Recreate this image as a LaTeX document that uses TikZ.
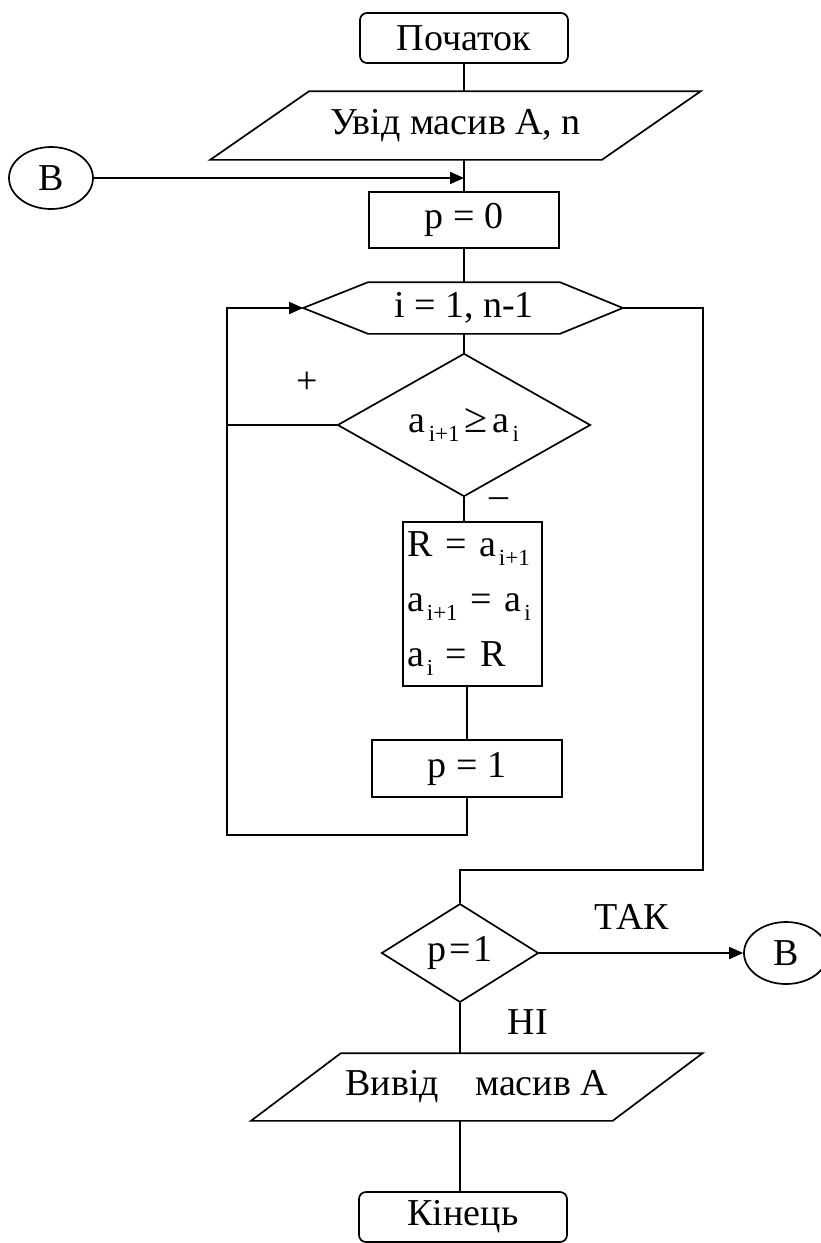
\documentclass[tikz,border=0pt]{standalone}
\usepackage{fontspec}
\setmainfont{Liberation Serif}
\usetikzlibrary{shapes.geometric,arrows.meta,calc}
\newcommand{\subx}[1]{\kern3pt\raisebox{-9pt}{\fontsize{23}{23}\selectfont #1}}
\begin{document}
\begin{tikzpicture}[x=1pt,y=-1pt,line width=1.7pt,
  every node/.style={font=\fontsize{38}{42}\selectfont},
  term/.style={draw,rounded corners=7pt,minimum width=208pt,minimum height=50pt,inner sep=0pt},
  proc/.style={draw,minimum height=56pt,inner sep=0pt},
  io/.style={minimum height=67pt,inner sep=0pt},
  dec/.style={draw,diamond,inner sep=0pt},
  conn/.style={draw,ellipse,minimum width=84pt,minimum height=62pt,inner sep=0pt},
  lbl/.style={inner sep=0pt},
  arr/.style={-{Triangle[length=14pt,width=12pt]}}]
\useasboundingbox (0,0) rectangle (821,1243);

% nodes
\node[term] (start) at (464,38) {Початок};
\node[io,minimum width=390pt] (in) at (455.5,125.5) {Увід масив А, n};
\draw ($(in.north west)+(49.5,0)$) -- ($(in.north east)+(49.5,0)$) -- ($(in.south east)+(-49.5,0)$) -- ($(in.south west)+(-49.5,0)$) -- cycle;
\node[conn] (bL) at (51,178) {В};
\node[proc,minimum width=190pt] (p0) at (464,220) {p = 0};
\node[minimum width=190pt,minimum height=50pt,inner sep=0pt] (hex) at (464,308) {i = 1, n-1};
\coordinate (hexW) at ($(hex.west)+(-65,0)$);
\coordinate (hexE) at ($(hex.east)+(63,0)$);
\draw (hex.north west) -- (hex.north east) -- (hexE) -- (hex.south east) -- (hex.south west) -- (hexW) -- cycle;
\node[dec,minimum width=253pt,minimum height=103pt] (d1) at (464,425) {a\subx{i+1}\kern5pt{\fontsize{42}{42}\selectfont ≥}\kern5pt a\subx{i}};
\node[draw,minimum width=139pt,minimum height=164pt,text width=131pt,inner sep=4pt,align=left,font=\fontsize{38}{55}\selectfont] (r) at (472.5,604) {R = a\subx{i+1}\\a\subx{i+1} = a\subx{i}\\a\subx{i} = R};
\node[proc,minimum width=190pt,minimum height=57pt] (p1) at (467,768.5) {p = 1};
\node[dec,minimum width=157pt,minimum height=98pt] (d2) at (460,953) {p{\kern3pt}={\kern3pt}1};
\node[conn] (bR) at (786,953) {В};
\node[io,minimum width=360pt,minimum height=66pt] (out) at (476.75,1087) {Вивід\hspace{0.7em} масив А};
\draw ($(out.north west)+(45,0)$) -- ($(out.north east)+(45,0)$) -- ($(out.south east)+(-45,0)$) -- ($(out.south west)+(-45,0)$) -- cycle;
\node[term] (end) at (463,1217) {Кінець};

% labels
\node[lbl] (plus) at (307,383) {+};
\node[lbl] (minus) at (499,503) {–};
\node[lbl] (tak) at (632,917) {ТАК};
\node[lbl] (ni) at (528,1022) {НІ};

% helper coordinates
\coordinate (loopL) at (227,835);
\coordinate (rt) at (703,870);

% connectors
\draw (start.south) -- (start.south |- in.north);
\draw (p0.north |- in.south) -- (p0.north);
\draw[arr] (bL.east) -- (bL.east -| p0.north);
\draw (p0.south) -- (hex.north);
\draw (hex.south) -- (d1.north);
\draw (d1.south) -- (d1.south |- r.north);
\draw (p1.north |- r.south) -- (p1.north);
\draw[arr] (p1.south) |- (loopL) |- (hexW);
\draw (d1.west) -- (d1.west -| loopL);
\draw (hexE) -| (rt) -| (d2.north);
\draw[arr] (d2.east) -- (bR.west);
\draw (d2.south) -- (d2.south |- out.north);
\draw (d2.south |- out.south) -- (d2.south |- end.north);
\end{tikzpicture}
\end{document}
